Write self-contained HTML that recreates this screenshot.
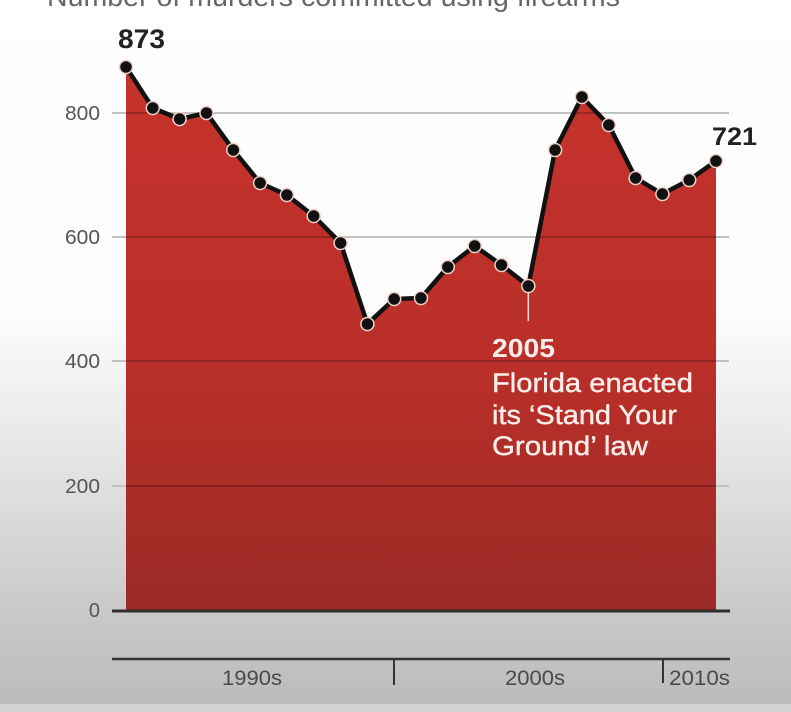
<!DOCTYPE html>
<html>
<head>
<meta charset="utf-8">
<style>
  html, body { margin: 0; padding: 0; width: 791px; height: 712px; overflow: hidden; background: #fff; }
  svg { display: block; }
  text { font-family: "Liberation Sans", "DejaVu Sans", sans-serif; }
</style>
</head>
<body>
<svg width="791" height="712" viewBox="0 0 791 712" xmlns="http://www.w3.org/2000/svg">
  <defs>
    <linearGradient id="bg" x1="0" y1="0" x2="0" y2="712" gradientUnits="userSpaceOnUse">
      <stop offset="0" stop-color="#ffffff"/>
      <stop offset="0.44" stop-color="#fcfcfc"/>
      <stop offset="0.62" stop-color="#e8e8e8"/>
      <stop offset="0.85" stop-color="#cacaca"/>
      <stop offset="1" stop-color="#bababa"/>
    </linearGradient>
    <linearGradient id="red" x1="0" y1="67" x2="0" y2="611" gradientUnits="userSpaceOnUse">
      <stop offset="0" stop-color="#c6322c"/>
      <stop offset="0.55" stop-color="#ba2f29"/>
      <stop offset="1" stop-color="#9b2a26"/>
    </linearGradient>
  </defs>

  <rect x="0" y="0" width="791" height="712" fill="url(#bg)"/>
  <rect x="0" y="704" width="791" height="8" fill="#d2d2d2"/>

  <text x="47" y="6" font-size="28" fill="#666" textLength="573" lengthAdjust="spacingAndGlyphs">Number of murders committed using firearms</text>

  <g stroke="#c2c2c2" stroke-width="2">
    <line x1="112" y1="113" x2="729" y2="113"/>
    <line x1="112" y1="237" x2="729" y2="237"/>
    <line x1="112" y1="361" x2="729" y2="361"/>
    <line x1="112" y1="486" x2="729" y2="486"/>
  </g>

  <polygon fill="url(#red)" points="126,611 126,67 152.8,108 179.6,119 206.5,113 233.3,150 260.1,183 286.9,195 313.7,216 340.6,243 367.4,324 394.2,299 421,298 447.8,267 474.7,246 501.5,265 528.3,286 555.1,150 581.9,97 608.8,125 635.6,178 662.4,194 689.2,180 716,161 716,611"/>

  <clipPath id="areaClip">
    <polygon points="126,611 126,67 152.8,108 179.6,119 206.5,113 233.3,150 260.1,183 286.9,195 313.7,216 340.6,243 367.4,324 394.2,299 421,298 447.8,267 474.7,246 501.5,265 528.3,286 555.1,150 581.9,97 608.8,125 635.6,178 662.4,194 689.2,180 716,161 716,611"/>
  </clipPath>
  <g stroke="#000" stroke-opacity="0.22" stroke-width="2" clip-path="url(#areaClip)">
    <line x1="112" y1="113" x2="729" y2="113"/>
    <line x1="112" y1="237" x2="729" y2="237"/>
    <line x1="112" y1="361" x2="729" y2="361"/>
    <line x1="112" y1="486" x2="729" y2="486"/>
  </g>

  <g font-size="20" fill="#555" text-anchor="end">
    <text x="100" y="120" textLength="35" lengthAdjust="spacingAndGlyphs">800</text>
    <text x="100" y="244" textLength="35" lengthAdjust="spacingAndGlyphs">600</text>
    <text x="100" y="368" textLength="35" lengthAdjust="spacingAndGlyphs">400</text>
    <text x="100" y="493" textLength="35" lengthAdjust="spacingAndGlyphs">200</text>
    <text x="100" y="617">0</text>
  </g>

  <line x1="112" y1="611" x2="730" y2="611" stroke="#2e2e2e" stroke-width="3"/>

  <polyline fill="none" stroke="#111" stroke-width="4.5" stroke-linejoin="round" stroke-linecap="round" points="126,67 152.8,108 179.6,119 206.5,113 233.3,150 260.1,183 286.9,195 313.7,216 340.6,243 367.4,324 394.2,299 421,298 447.8,267 474.7,246 501.5,265 528.3,286 555.1,150 581.9,97 608.8,125 635.6,178 662.4,194 689.2,180 716,161"/>

  <line x1="528.3" y1="292" x2="528.3" y2="321" stroke="#f4dcd6" stroke-width="1.5"/>

  <g fill="#111" stroke="#f1d2ca" stroke-width="1.5">
    <circle cx="126" cy="67" r="6.5"/>
    <circle cx="152.8" cy="108" r="6.5"/>
    <circle cx="179.6" cy="119" r="6.5"/>
    <circle cx="206.5" cy="113" r="6.5"/>
    <circle cx="233.3" cy="150" r="6.5"/>
    <circle cx="260.1" cy="183" r="6.5"/>
    <circle cx="286.9" cy="195" r="6.5"/>
    <circle cx="313.7" cy="216" r="6.5"/>
    <circle cx="340.6" cy="243" r="6.5"/>
    <circle cx="367.4" cy="324" r="6.5"/>
    <circle cx="394.2" cy="299" r="6.5"/>
    <circle cx="421" cy="298" r="6.5"/>
    <circle cx="447.8" cy="267" r="6.5"/>
    <circle cx="474.7" cy="246" r="6.5"/>
    <circle cx="501.5" cy="265" r="6.5"/>
    <circle cx="528.3" cy="286" r="6.5"/>
    <circle cx="555.1" cy="150" r="6.5"/>
    <circle cx="581.9" cy="97" r="6.5"/>
    <circle cx="608.8" cy="125" r="6.5"/>
    <circle cx="635.6" cy="178" r="6.5"/>
    <circle cx="662.4" cy="194" r="6.5"/>
    <circle cx="689.2" cy="180" r="6.5"/>
    <circle cx="716" cy="161" r="6.5"/>
  </g>

  <text x="118" y="48" font-size="27" font-weight="bold" fill="#222" textLength="47" lengthAdjust="spacingAndGlyphs">873</text>
  <text x="712" y="145" font-size="25" font-weight="bold" fill="#222" textLength="45" lengthAdjust="spacingAndGlyphs">721</text>

  <g fill="#fbeeea">
    <text x="492" y="357" font-size="26" font-weight="bold" textLength="63" lengthAdjust="spacingAndGlyphs">2005</text>
    <text x="492" y="392" font-size="27" stroke="#fbeeea" stroke-width="0.4" textLength="201" lengthAdjust="spacingAndGlyphs">Florida enacted</text>
    <text x="492" y="424" font-size="27" stroke="#fbeeea" stroke-width="0.4" textLength="185" lengthAdjust="spacingAndGlyphs">its ‘Stand Your</text>
    <text x="492" y="455" font-size="27" stroke="#fbeeea" stroke-width="0.4" textLength="156" lengthAdjust="spacingAndGlyphs">Ground’ law</text>
  </g>

  <line x1="112" y1="659" x2="730" y2="659" stroke="#333" stroke-width="2.5"/>
  <line x1="394" y1="659" x2="394" y2="685" stroke="#333" stroke-width="2"/>
  <line x1="663" y1="659" x2="663" y2="683" stroke="#333" stroke-width="2"/>
  <g font-size="21" fill="#4a4a4a">
    <text x="222" y="685" textLength="60" lengthAdjust="spacingAndGlyphs">1990s</text>
    <text x="505" y="685" textLength="60" lengthAdjust="spacingAndGlyphs">2000s</text>
    <text x="669" y="685" textLength="61" lengthAdjust="spacingAndGlyphs">2010s</text>
  </g>
</svg>
</body>
</html>
